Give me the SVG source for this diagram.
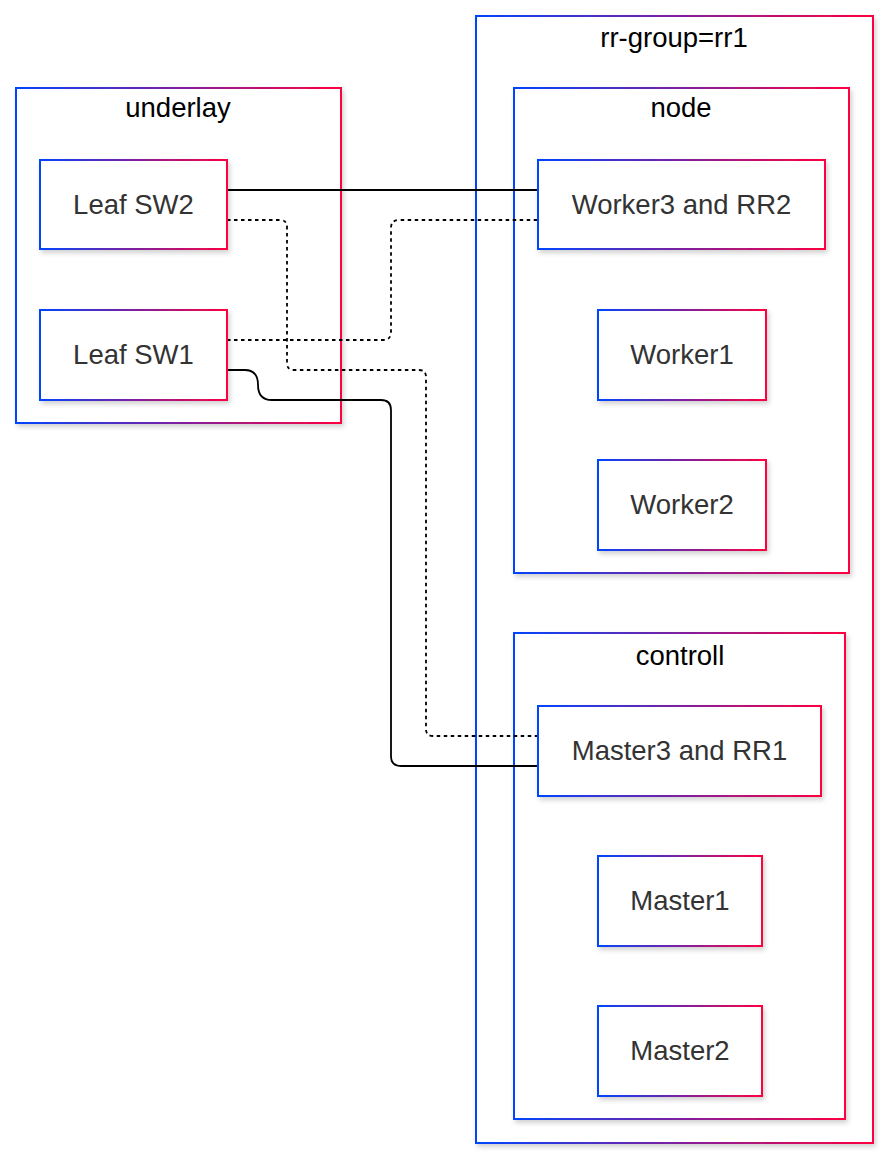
<svg xmlns="http://www.w3.org/2000/svg" width="890" height="1160" viewBox="0 0 890 1160">
  <defs>
    <linearGradient id="grad" x1="0" y1="0" x2="1" y2="0">
      <stop offset="0" stop-color="#0045ff"/>
      <stop offset="0.5" stop-color="#7d20a0"/>
      <stop offset="1" stop-color="#ff0040"/>
    </linearGradient>
    <filter id="shadow" x="-5%" y="-5%" width="115%" height="115%">
      <feDropShadow dx="2" dy="3" stdDeviation="2.5" flood-color="#000" flood-opacity="0.18"/>
    </filter>
  </defs>
  <style>
    .box { fill: #ffffff; stroke: url(#grad); stroke-width: 2; filter: url(#shadow); }
    .ctext { font-family: "Liberation Sans", Arial, sans-serif; font-size: 27.5px; fill: #000; text-anchor: middle; }
    .ntext { font-family: "Liberation Sans", Arial, sans-serif; font-size: 27.5px; fill: #333333; text-anchor: middle; }
    .edge { fill: none; stroke: #000; stroke-width: 1.8; }
    .dot { stroke-dasharray: 3.5 3.5; }
  </style>
  <rect width="890" height="1160" fill="#ffffff"/>

  <g id="rr-group">
    <rect class="box" x="476" y="16" width="397" height="1127"/>
    <text class="ctext" x="674" y="47">rr-group=rr1</text>
  </g>
  <g id="underlay">
    <rect class="box" x="16" y="88" width="325" height="335"/>
    <text class="ctext" x="178" y="117">underlay</text>
  </g>
  <g id="node">
    <rect class="box" x="514" y="88" width="335" height="485"/>
    <text class="ctext" x="681" y="117">node</text>
  </g>
  <g id="controll">
    <rect class="box" x="514" y="633" width="331" height="486"/>
    <text class="ctext" x="680" y="665">controll</text>
  </g>

  <g id="connectors">
    <path class="edge" d="M227,190 L538,190"/>
    <path class="edge dot" d="M227,220 L280,220 Q287,220 287,227 L287,363 Q287,370 294,370 L419,370 Q426,370 426,377 L426,729 Q426,736 433,736 L538,736"/>
    <path class="edge dot" d="M227,340 L383,340 Q391,340 391,332 L391,228 Q391,220 399,220 L538,220"/>
    <path class="edge" d="M227,370 L245,370 C255,370 258,376 258,385 C258,394 262,400 272,400 L381,400 Q391,400 391,410 L391,756 Q391,766 401,766 L538,766"/>
  </g>

  <g id="leaf-sw2">
    <rect class="box" x="40" y="160" width="187" height="89"/>
    <text class="ntext" x="133.5" y="214">Leaf SW2</text>
  </g>
  <g id="leaf-sw1">
    <rect class="box" x="40" y="310" width="187" height="90"/>
    <text class="ntext" x="133.5" y="364">Leaf SW1</text>
  </g>
  <g id="worker3-rr2">
    <rect class="box" x="538" y="160" width="287" height="89"/>
    <text class="ntext" x="681.5" y="214">Worker3 and RR2</text>
  </g>
  <g id="worker1">
    <rect class="box" x="598" y="310" width="168" height="90"/>
    <text class="ntext" x="682" y="364">Worker1</text>
  </g>
  <g id="worker2">
    <rect class="box" x="598" y="460" width="168" height="90"/>
    <text class="ntext" x="682" y="514">Worker2</text>
  </g>
  <g id="master3-rr1">
    <rect class="box" x="538" y="706" width="283" height="90"/>
    <text class="ntext" x="679.5" y="760">Master3 and RR1</text>
  </g>
  <g id="master1">
    <rect class="box" x="598" y="856" width="164" height="90"/>
    <text class="ntext" x="680" y="910">Master1</text>
  </g>
  <g id="master2">
    <rect class="box" x="598" y="1006" width="164" height="90"/>
    <text class="ntext" x="680" y="1060">Master2</text>
  </g>
</svg>
